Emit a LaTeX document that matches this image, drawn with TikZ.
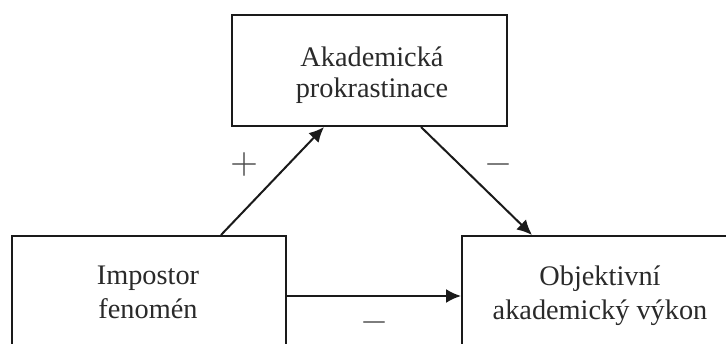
\documentclass[tikz,border=0pt]{standalone}
\usepackage{fontspec}
\setmainfont{Liberation Serif}
\usetikzlibrary{calc,arrows.meta}
\definecolor{txt}{HTML}{2A2A2A}
\definecolor{ln}{HTML}{1A1A1A}
\begin{document}
\begin{tikzpicture}[x=1pt,y=1pt,
  box/.style={draw=ln,line width=2pt,inner sep=0pt,fill=white},
  lbl/.style={text=txt,align=center,inner sep=0pt},
  arr/.style={draw=ln,line width=2pt,-{Latex[length=15pt,width=14pt]}},
  sign/.style={text=txt!85,inner sep=0pt}]
\useasboundingbox (0,0) rectangle (726,343);
\clip (0,0) rectangle (726,343);
\fill[white] (0,0) rectangle (726,343);
% boxes
\node[box,minimum width=275pt,minimum height=111pt] (tbox) at (369.5,272.5) {};
\node[box,minimum width=274pt,minimum height=124pt] (lbox) at (149,45) {};
\node[box,minimum width=278pt,minimum height=124pt] (rbox) at (601,45) {};
% texts
\node[lbl,font=\fontsize{28.3}{31}\selectfont] (ttext) at (372,268) {Akademická\\prokrastinace};
\node[lbl,font=\fontsize{28.3}{34}\selectfont] (ltext) at (148,50.5) {Impostor\\fenomén};
\node[lbl,font=\fontsize{28.3}{34}\selectfont] (rtext) at (600,47.7) {Objektivní\\akademický výkon};
% connectors
\draw[arr] ($(lbox.north west)+(210,0)$) -- ($(tbox.south west)+(93,0)$);
\draw[arr] ($(tbox.south west)+(190,0)$) -- ($(rbox.north west)+(71,0)$);
\draw[arr] ($(lbox.east)+(0,2)$) -- ($(rbox.west)+(0,2)$);
% signs
\node[sign] (splus) at (244,178) {\scalebox{3.6}{$+$}};
\node[sign] (sminus1) at (498,178) {\scalebox{3.6}{$-$}};
\node[sign] (sminus2) at (374,21) {\scalebox{3.6}{$-$}};
\end{tikzpicture}
\end{document}
